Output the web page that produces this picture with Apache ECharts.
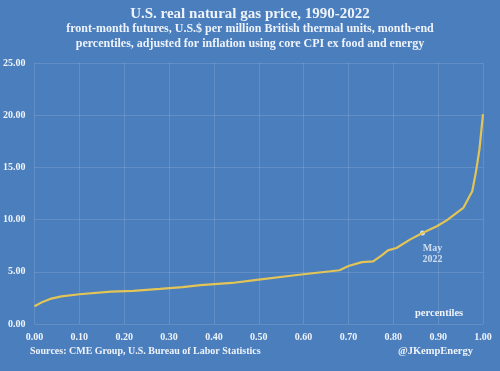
<!DOCTYPE html>
<html>
<head>
<meta charset="utf-8">
<script src="https://cdn.jsdelivr.net/npm/echarts@6/dist/echarts.min.js"></script>
<style>
html,body{margin:0;padding:0;background:#4a7ebd;}
#c{width:500px;height:371px;}
</style>
</head>
<body>
<div id="c"></div>
<script>
const percentiles = [0.00, 0.015, 0.035, 0.06, 0.10, 0.17, 0.22, 0.28, 0.33, 0.37, 0.44, 0.50, 0.59, 0.66, 0.68, 0.70, 0.73, 0.755, 0.775, 0.788, 0.807, 0.837, 0.865, 0.897, 0.919, 0.956, 0.976, 0.984, 0.992, 1.00];
const prices = [1.70, 2.05, 2.40, 2.65, 2.85, 3.10, 3.17, 3.36, 3.53, 3.72, 3.93, 4.25, 4.72, 5.05, 5.15, 5.55, 5.93, 6.00, 6.60, 7.05, 7.28, 8.08, 8.72, 9.36, 9.93, 11.12, 12.72, 14.5, 16.7, 20.1];
const mayPoint = [0.865, 8.72];
const mayLabel = "May\n2022";

const titleText = "U.S. real natural gas price, 1990-2022";
const subText = "front-month futures, U.S.$ per million British thermal units, month-end\npercentiles, adjusted for inflation using core CPI ex food and energy";
const sourceText = "Sources: CME Group, U.S. Bureau of Labor Statistics";
const creditText = "@JKempEnergy";
const xName = "percentiles";

const font = "'Liberation Serif', 'DejaVu Serif', serif";
const txt = "#eef3fa";

const chart = echarts.init(document.getElementById('c'), null, {renderer: 'canvas'});
chart.setOption({
  backgroundColor: '#4a7ebd',
  animation: false,
  title: [
    {text: titleText, left: 'center', top: 2,
     textStyle: {color: txt, fontFamily: font, fontSize: 15, fontWeight: 'bold'}},
    {text: subText, left: 'center', top: 16,
     textStyle: {color: txt, fontFamily: font, fontSize: 12, fontWeight: 'bold', lineHeight: 15}},
    {text: sourceText, left: 25, top: 341,
     textStyle: {color: txt, fontFamily: font, fontSize: 10, fontWeight: 'bold'}},
    {text: creditText, right: 22, top: 341,
     textStyle: {color: txt, fontFamily: font, fontSize: 10.5, fontWeight: 'bold'}},
    {text: xName, left: 410, top: 303,
     textStyle: {color: txt, fontFamily: font, fontSize: 10.5, fontWeight: 'bold'}}
  ],
  grid: {left: 34, right: 17, top: 63, bottom: 47, containLabel: false},
  xAxis: {
    type: 'value', min: 0, max: 1, interval: 0.1,
    axisLine: {show: false}, axisTick: {show: false},
    splitLine: {show: true, lineStyle: {color: 'rgba(255,255,255,0.13)', width: 1}},
    axisLabel: {color: txt, fontFamily: font, fontSize: 10, fontWeight: 'bold', margin: 8,
      formatter: v => v.toFixed(2)}
  },
  yAxis: {
    type: 'value', min: 0, max: 25, interval: 5,
    axisLine: {show: false}, axisTick: {show: false},
    splitLine: {show: true, lineStyle: {color: 'rgba(255,255,255,0.13)', width: 1}},
    axisLabel: {color: txt, fontFamily: font, fontSize: 10, fontWeight: 'bold', margin: 9,
      formatter: v => v.toFixed(2)}
  },
  series: [
    {type: 'line', data: percentiles.map((p, i) => [p, prices[i]]),
     showSymbol: false, symbol: 'none',
     lineStyle: {color: '#e3c456', width: 2.2}},
    {type: 'scatter', data: [mayPoint], symbol: 'circle', symbolSize: 5,
     itemStyle: {color: '#ffffff'},
     label: {show: true, formatter: mayLabel, position: 'bottom', distance: 7, offset: [10, 0],
       color: txt, fontFamily: font, fontSize: 10, fontWeight: 'bold', lineHeight: 11, align: 'center'}}
  ]
});
</script>
</body>
</html>
